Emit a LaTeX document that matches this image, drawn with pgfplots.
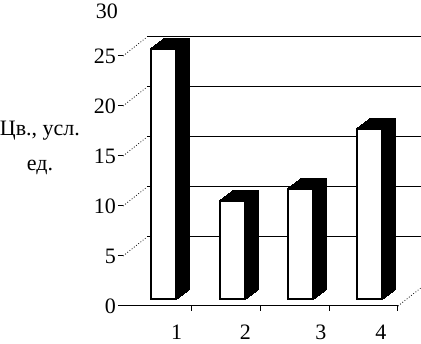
\documentclass[border=0pt]{standalone}
\usepackage{fontspec}
\setmainfont{Liberation Serif}
\usepackage{pgfplots}
\pgfplotsset{compat=1.18}
\pgfplotstableread{
x y
0.5 25.0
1.5 9.8
2.5 11.0
3.5 17.0
}\bars
\begin{document}
\begin{tikzpicture}
\begin{axis}[
  at={(0,0)}, anchor=south west,
  scale only axis, width=275pt, height=300pt,
  xmin=0, xmax=4, ymin=0, ymax=30,
  clip=false,
  axis x line*=bottom, axis y line*=left,
  axis line style={-, line width=1pt, black},
  y axis line style={draw=none},
  tick align=outside, major tick length=5pt,
  tick style={black, line width=1pt},
  xtick={1,2,3,4}, xticklabels={},
  extra x ticks={0.78,1.78,2.88,3.75},
  extra x tick labels={1,2,3,4},
  extra x tick style={major tick length=0pt, tick style={draw=none}},
  ytick={0,5,...,25},
  extra y ticks={30},
  extra y tick style={major tick length=0pt, tick style={draw=none}, yticklabel style={yshift=-5pt, xshift=-3pt}},
  /pgf/number format/assume math mode=true,
  tick label style={font=\fontsize{22}{26}\selectfont},
  yticklabel style={inner sep=2pt},
  xticklabel style={yshift=-15pt},
  ylabel={Цв., усл.\\ед.},
  every axis y label/.style={at={(axis description cs:-0.302,0.528)}, anchor=center, align=center, font=\fontsize{22}{35}\selectfont},
]
% back wall gridlines
\addplot[black, line width=1pt] coordinates {(0.349,6.9) (4.349,6.9)};
\addplot[black, line width=1pt] coordinates {(0.349,11.9) (4.349,11.9)};
\addplot[black, line width=1pt] coordinates {(0.349,16.9) (4.349,16.9)};
\addplot[black, line width=1pt] coordinates {(0.349,21.9) (4.349,21.9)};
\addplot[black, line width=1pt] coordinates {(0.349,26.9) (4.349,26.9)};
% dotted depth lines
\addplot[black, dotted, line width=0.8pt] coordinates {(0,5) (0.349,6.9)};
\addplot[black, dotted, line width=0.8pt] coordinates {(0,10) (0.349,11.9)};
\addplot[black, dotted, line width=0.8pt] coordinates {(0,15) (0.349,16.9)};
\addplot[black, dotted, line width=0.8pt] coordinates {(0,20) (0.349,21.9)};
\addplot[black, dotted, line width=0.8pt] coordinates {(0,25) (0.349,26.9)};
\addplot[black, dotted, line width=0.8pt] coordinates {(4,0) (4.349,1.9)};
% extrusion of bars
\pgfplotsinvokeforeach{1,...,13}{
  \addplot[ybar, bar width=25pt, bar shift=0pt, fill=black, draw=black, line width=2pt,
    xshift={6pt+13pt*#1/13}, yshift={7pt+9.5pt*#1/13}] table[x=x,y=y] {\bars};
}
% front faces
\addplot[ybar, bar width=25pt, bar shift=0pt, fill=white, draw=black, line width=2pt,
  xshift=6pt, yshift=7pt] table[x=x,y=y] {\bars};
\end{axis}
\pgfresetboundingbox
\path[use as bounding box] (-123pt,-38pt) rectangle (298pt,306pt);
\end{tikzpicture}
\end{document}
